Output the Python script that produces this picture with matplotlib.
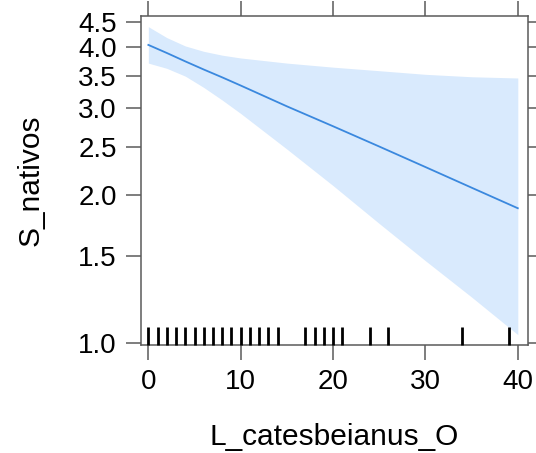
import matplotlib
matplotlib.use("Agg")
import matplotlib.pyplot as plt
from matplotlib.ticker import FixedLocator, NullLocator

plt.rcParams['font.family'] = ['Liberation Sans', 'DejaVu Sans']

# Effect of L_catesbeianus_O on S_nativos (response scale, log axis)
x_grid = [0, 2, 4, 6, 8, 10, 15, 20, 25, 30, 35, 40]
fit = [4.04, 3.89, 3.74, 3.60, 3.47, 3.34, 3.03, 2.76, 2.51, 2.28, 2.07, 1.88]
lower = [3.71, 3.62, 3.49, 3.31, 3.12, 2.93, 2.48, 2.09, 1.75, 1.47, 1.24, 1.04]
upper = [4.40, 4.18, 4.02, 3.92, 3.85, 3.80, 3.71, 3.64, 3.58, 3.52, 3.48, 3.46]

# Observed predictor values (rug)
rug_x = [0, 1, 2, 3, 4, 5, 6, 7, 8, 9, 10, 11, 12, 13, 14,
         17, 18, 19, 20, 21, 24, 26, 34, 39]

x_ticks = [0, 10, 20, 30, 40]
y_ticks = [1.0, 1.5, 2.0, 2.5, 3.0, 3.5, 4.0, 4.5]
y_tick_labels = ["1.0", "1.5", "2.0", "2.5", "3.0", "3.5", "4.0", "4.5"]

line_col = "#3a88de"
band_col = "#d9eafd"
frame_col = "#5a5a5a"

fig = plt.figure(figsize=(5.36, 4.53), dpi=100)
ax = fig.add_axes([0.263, 0.2384, 0.722, 0.7263])

ax.fill_between(x_grid, lower, upper, color=band_col, linewidth=0, zorder=1)
ax.plot(x_grid, fit, color=line_col, linewidth=1.3, zorder=2)

# rug along the bottom edge
for xv in rug_x:
    ax.plot([xv, xv], [0.0, 0.055], transform=ax.get_xaxis_transform(),
            color="black", linewidth=2.0, solid_capstyle="butt", zorder=3,
            clip_on=False)

ax.set_yscale("log")
ax.set_xlim(-0.8, 41.1)
ax.set_ylim(0.9907, 4.626)

ax.xaxis.set_major_locator(FixedLocator(x_ticks))
ax.yaxis.set_major_locator(FixedLocator(y_ticks))
ax.yaxis.set_minor_locator(NullLocator())
ax.set_yticklabels(y_tick_labels)
ax.set_xticklabels([str(t) for t in x_ticks])

ax.tick_params(axis="both", which="major", direction="out", length=10.5,
               width=1.1, color=frame_col, labelsize=20, pad=7,
               top=True, right=True, labeltop=False, labelright=False)
for sp in ax.spines.values():
    sp.set_color(frame_col)
    sp.set_linewidth(1.1)

ax.set_xlabel("L_catesbeianus_O", fontsize=21.5, labelpad=20)
ax.set_ylabel("S_nativos", fontsize=21.5, labelpad=24)

fig.savefig("out.png", dpi=100, facecolor="white")
